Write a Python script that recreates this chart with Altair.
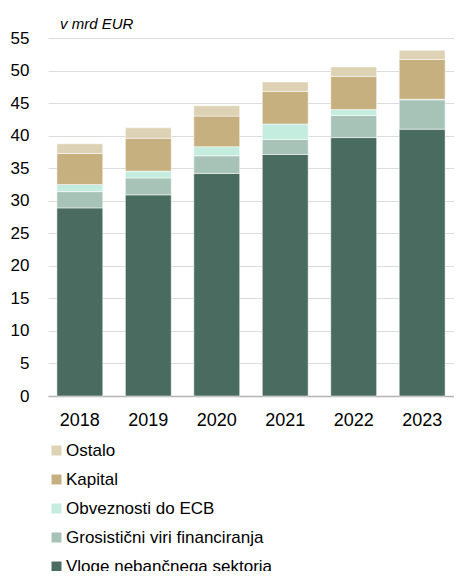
import altair as alt
import pandas as pd

years = ["2018", "2019", "2020", "2021", "2022", "2023"]
series = [
    "Ostalo",
    "Kapital",
    "Obveznosti do ECB",
    "Grosistični viri financiranja",
    "Vloge nebančnega sektorja",
]
colors = ["#ded2b4", "#c6b07f", "#c5eddf", "#a7c3b8", "#4a6b5f"]

vloge = [28.9, 30.9, 34.2, 37.1, 39.7, 41.0]
grosisticni = [2.5, 2.6, 2.7, 2.3, 3.4, 4.5]
ecb = [1.1, 1.05, 1.4, 2.4, 0.9, 0.1]
kapital = [4.75, 5.05, 4.7, 5.0, 5.1, 6.1]
ostalo = [1.5, 1.6, 1.6, 1.45, 1.45, 1.4]

values = {
    "Vloge nebančnega sektorja": vloge,
    "Grosistični viri financiranja": grosisticni,
    "Obveznosti do ECB": ecb,
    "Kapital": kapital,
    "Ostalo": ostalo,
}
stack_order = [
    "Vloge nebančnega sektorja",
    "Grosistični viri financiranja",
    "Obveznosti do ECB",
    "Kapital",
    "Ostalo",
]

rows = []
for s in stack_order:
    for i, y in enumerate(years):
        rows.append({"year": y, "series": s, "value": values[s][i], "ord": stack_order.index(s)})
df = pd.DataFrame(rows)

FONT = "Liberation Sans"

chart = alt.Chart(df).mark_bar(stroke="white", strokeWidth=0.5).encode(
    x=alt.X(
        "year:N",
        title=None,
        sort=years,
        scale=alt.Scale(paddingInner=0.33, paddingOuter=0.13),
        axis=alt.Axis(
            labelAngle=0,
            labelFont=FONT,
            labelFontSize=18,
            labelColor="#000000",
            labelPadding=15,
            ticks=False,
            domainColor="#b4b4b4",
            domainWidth=1.5,
            grid=False,
        ),
    ),
    y=alt.Y(
        "value:Q",
        title=None,
        stack="zero",
        scale=alt.Scale(domain=[0, 55], nice=False),
        axis=alt.Axis(
            values=list(range(0, 56, 5)),
            labelFont=FONT,
            labelFontSize=17,
            labelColor="#000000",
            labelPadding=19,
            ticks=False,
            tickSize=0,
            domain=False,
            gridColor="#dcdcdc",
            gridWidth=1.2,
        ),
    ),
    color=alt.Color(
        "series:N",
        scale=alt.Scale(domain=series, range=colors),
        legend=alt.Legend(
            title=None,
            orient="none",
            legendX=0,
            legendY=404,
            direction="vertical",
            symbolType="square",
            symbolSize=100,
            symbolStrokeWidth=0,
            symbolOpacity=1,
            labelFont=FONT,
            labelFontSize=17,
            labelColor="#000000",
            labelOffset=1,
            rowPadding=11,
            labelLimit=400,
        ),
    ),
    order=alt.Order("ord:Q", sort="ascending"),
).properties(
    width=406,
    height=358,
    title=alt.TitleParams(
        "v mrd EUR",
        anchor="start",
        frame="group",
        dx=12,
        dy=13,
        offset=10,
        font=FONT,
        fontSize=15,
        fontStyle="italic",
        fontWeight="normal",
        color="#000000",
    ),
    autosize=alt.AutoSizeParams(type="none"),
    padding={"left": 40, "top": 30, "right": 0, "bottom": 175},
).configure_view(stroke=None)

chart.save("out.html", embed_options={"renderer": "svg", "actions": False})
